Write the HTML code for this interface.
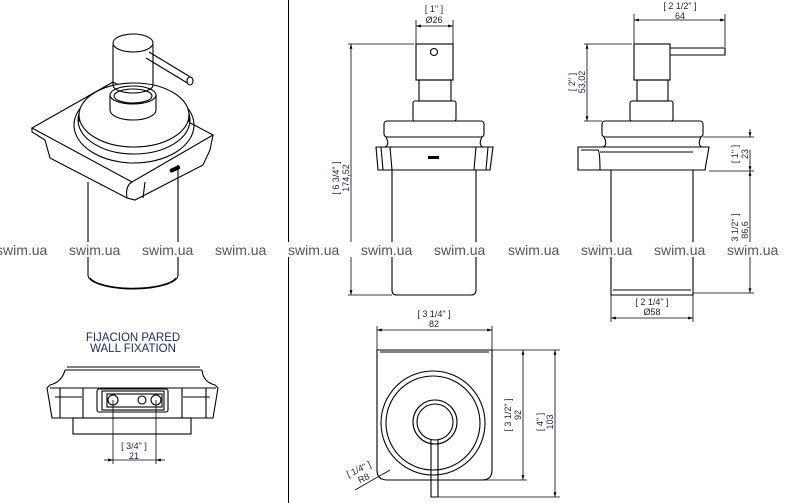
<!DOCTYPE html>
<html><head><meta charset="utf-8"><style>
html,body{margin:0;padding:0;background:#fff;}
svg{display:block;}
text{font-family:"Liberation Sans",Arial,sans-serif;}
</style></head><body>
<svg width="800" height="503" viewBox="0 0 800 503" xmlns="http://www.w3.org/2000/svg">
<defs>
<marker id="a" viewBox="0 0 10 10" refX="10" refY="5" markerWidth="6" markerHeight="6" orient="auto-start-reverse"><path d="M0,2 L10,5 L0,8 z" fill="#000"/></marker>
</defs>
<rect width="800" height="503" fill="#fff"/>
<g stroke="#000" fill="none" stroke-width="1">
<line x1="288.5" y1="0" x2="288.5" y2="503"/>

<!-- ISO VIEW -->
<g stroke-width="1.1">
<path d="M32,128 L113,82 L213,135 L132,182 Z" fill="#fff"/>
<path d="M32,128 L32,132 L45,140 L50,158 L127,198 L135,200 L203,165 L210,150 L213,135"/>
<path d="M132,182 Q125,186 127,198 M145,182 L143,198"/>
<ellipse cx="134" cy="125" rx="60" ry="38"/>
<ellipse cx="134" cy="120" rx="56" ry="34" fill="#fff"/>
<ellipse cx="134" cy="115" rx="55" ry="32" fill="#fff"/>
<path d="M79,115 L79,122 M189,115 L189,122"/>
<path d="M110,95 L110,110 A23,10 0 0 0 156,110 L156,95"/>
<ellipse cx="133" cy="95" rx="23" ry="9" fill="#fff"/>
<ellipse cx="133" cy="96" rx="19" ry="7"/>
<path d="M113,45 L113,85 A20,8 0 0 0 153,85 L153,45"/>
<ellipse cx="133" cy="43" rx="20" ry="9" fill="#fff"/>
<path d="M146,58 L189,84 M149,52 L192,78"/>
<ellipse cx="190" cy="81" rx="3" ry="4" fill="#fff"/>
<path d="M88,182 L88,275 A45,14 0 0 0 178,275 L178,165"/>
<path d="M90,278 A44,13 0 0 0 176,278"/>
<rect x="170" y="167" width="10" height="3" rx="1.5" transform="rotate(-25 176 169)" fill="#000"/>
</g>

<!-- FRONT VIEW -->
<g stroke-width="1.1">
<rect x="416" y="44" width="37" height="36"/>
<circle cx="434" cy="52" r="3.5"/>
<rect x="419" y="80" width="32" height="21"/>
<rect x="413" y="101" width="43" height="20" rx="2"/>
<rect x="384" y="121" width="100" height="16" rx="3"/>
<path d="M386,137 Q390,145 385,147 M482,137 Q478,145 483,147"/>
<path d="M376,147 L493,147 L490,170 L378,170 Z"/>
<path d="M381,147 L383,170 M488,147 L486,170 M390,147 L392,170 M476,147 L474,170"/>
<rect x="428" y="156" width="11" height="3" fill="#000" stroke="none"/>
<path d="M392,170 L392,290 Q392,295 397,295 L471,295 Q476,295 476,290 L476,170"/>
</g>
<g stroke-width="0.8">
<line x1="416" y1="20" x2="416" y2="44"/><line x1="453" y1="20" x2="453" y2="44"/>
<line x1="416" y1="26" x2="453" y2="26" marker-start="url(#a)" marker-end="url(#a)"/>
<line x1="348" y1="44" x2="414" y2="44"/><line x1="348" y1="295" x2="392" y2="295"/>
<line x1="351" y1="44" x2="351" y2="295" marker-start="url(#a)" marker-end="url(#a)"/>
</g>

<!-- SIDE VIEW -->
<g stroke-width="1.1">
<rect x="634" y="44" width="36" height="36"/>
<path d="M670,48 L725,48 L725,55 L670,55"/>
<rect x="637" y="80" width="31" height="21"/>
<rect x="630" y="101" width="43" height="20" rx="2"/>
<rect x="602" y="121" width="101" height="16" rx="3"/>
<path d="M604,137 Q608,145 603,147 M701,137 Q697,145 702,147"/>
<path d="M578,147 L709,147 L705,170 L578,170 Z"/>
<path d="M581,150 L598,150 Q600,152 600,170 M600,152 L693,152"/>
<path d="M611,170 L611,295 L693,295 L693,170"/>
<path d="M613,290 L691,290"/>
</g>
<g stroke-width="0.8">
<line x1="634" y1="14" x2="634" y2="44"/><line x1="725" y1="14" x2="725" y2="47"/>
<line x1="634" y1="20" x2="725" y2="20" marker-start="url(#a)" marker-end="url(#a)"/>
<line x1="584" y1="44" x2="632" y2="44"/><line x1="584" y1="121" x2="602" y2="121"/>
<line x1="587" y1="44" x2="587" y2="121" marker-start="url(#a)" marker-end="url(#a)"/>
<line x1="703" y1="137" x2="754" y2="137"/><line x1="709" y1="171" x2="754" y2="171"/><line x1="693" y1="293" x2="754" y2="293"/>
<line x1="750" y1="129" x2="750" y2="137" marker-end="url(#a)"/>
<line x1="750" y1="171" x2="750" y2="293" marker-start="url(#a)" marker-end="url(#a)"/>
<line x1="750" y1="150" x2="750" y2="171" marker-end="url(#a)"/>
<line x1="611" y1="295" x2="611" y2="322"/><line x1="693" y1="295" x2="693" y2="322"/>
<line x1="611" y1="318" x2="693" y2="318" marker-start="url(#a)" marker-end="url(#a)"/>
</g>

<!-- TOP VIEW -->
<g stroke-width="1.1">
<path d="M377,350 L492,350 L492,470 Q492,480 482,480 L387,480 Q377,480 377,470 Z"/>
<path d="M380,352 L489,352"/>
<circle cx="433" cy="423" r="52"/>
<circle cx="433" cy="423" r="47"/>
<circle cx="435" cy="422" r="22"/>
<circle cx="435" cy="422" r="18"/>
<path d="M431,440 L431,497 L438,497 L438,440"/>
</g>
<g stroke-width="0.8">
<line x1="377" y1="326" x2="377" y2="350"/><line x1="492" y1="326" x2="492" y2="350"/>
<line x1="377" y1="330" x2="492" y2="330" marker-start="url(#a)" marker-end="url(#a)"/>
<line x1="492" y1="350" x2="560" y2="350"/><line x1="470" y1="480" x2="527" y2="480"/><line x1="438" y1="497" x2="560" y2="497"/>
<line x1="523" y1="350" x2="523" y2="480" marker-start="url(#a)" marker-end="url(#a)"/>
<line x1="555" y1="350" x2="555" y2="497" marker-start="url(#a)" marker-end="url(#a)"/>
<line x1="355" y1="490" x2="390" y2="470"/>
</g>

<!-- WALL FIXATION -->
<g stroke-width="1.1">
<path d="M67,367 L200,367 M65,370 L202,370"/>
<path d="M65,370 Q62,382 50,385 L47,388 L52,418 L213,418 L218,388 L215,385 Q203,382 202,370"/>
<path d="M50,388 L216,388"/>
<path d="M60,388 L60,418 M83,388 L83,418 M182,388 L182,418 M206,388 L206,418"/>
<path d="M55,397 L82,397 M183,397 L210,397"/>
<rect x="73" y="418" width="118" height="16"/>
<rect x="97" y="389" width="71" height="23" rx="2"/>
<rect x="102" y="391" width="62" height="19"/>
<rect x="107" y="394" width="55" height="13"/>
<circle cx="113" cy="400" r="5"/>
<circle cx="142" cy="400" r="4"/>
<circle cx="156" cy="400" r="5"/>
</g>
<g stroke-width="0.8">
<line x1="113" y1="400" x2="113" y2="464"/><line x1="156" y1="400" x2="156" y2="464"/>
<line x1="104" y1="460" x2="113" y2="460" marker-end="url(#a)"/>
<line x1="165" y1="460" x2="156" y2="460" marker-end="url(#a)"/>
<line x1="113" y1="460" x2="156" y2="460"/>
</g>
</g>

<!-- TEXT -->
<g fill="#1a2040" font-size="9" text-anchor="middle">
<text x="434" y="12">[ 1" ]</text><text x="434" y="23">Ø26</text>
<text x="680" y="9">[ 2 1/2" ]</text><text x="680" y="19">64</text>
<text x="652" y="305">[ 2 1/4" ]</text><text x="652" y="315">Ø58</text>
<text x="434" y="317">[ 3 1/4" ]</text><text x="434" y="327">82</text>
<text x="134" y="449">[ 3/4" ]</text><text x="134" y="459">21</text>
<g transform="translate(341,178) rotate(-90)"><text y="-2">[ 6 3/4" ]</text><text y="8">174,52</text></g>
<g transform="translate(577,82) rotate(-90)"><text y="-2">[ 2" ]</text><text y="8">53,02</text></g>
<g transform="translate(740,154) rotate(-90)"><text y="-2">[ 1" ]</text><text y="8">23</text></g>
<g transform="translate(740,230) rotate(-90)"><text y="-2">[ 3 1/2" ]</text><text y="8">86,6</text></g>
<g transform="translate(513,415) rotate(-90)"><text y="-2">[ 3 1/2" ]</text><text y="8">92</text></g>
<g transform="translate(545,422) rotate(-90)"><text y="-2">[ 4" ]</text><text y="8">103</text></g>
<text transform="translate(360,472) rotate(-25)">[ 1/4" ]</text>
<text transform="translate(365,481) rotate(-25)">R8</text>
<text x="133" y="341" font-size="11.5" fill="#1a2a5a">FIJACION PARED</text>
<text x="133" y="352" font-size="11.5" fill="#1a2a5a">WALL FIXATION</text>
</g>

<!-- WATERMARKS -->
<g font-size="14" fill="#555">
<rect x="0" y="242" width="800" height="15" fill="#fff"/>
<text x="-4" y="255">swim.ua</text>
<text x="69" y="255">swim.ua</text>
<text x="142" y="255">swim.ua</text>
<text x="215" y="255">swim.ua</text>
<text x="288" y="255">swim.ua</text>
<text x="361" y="255">swim.ua</text>
<text x="434" y="255">swim.ua</text>
<text x="508" y="255">swim.ua</text>
<text x="581" y="255">swim.ua</text>
<text x="654" y="255">swim.ua</text>
<text x="727" y="255">swim.ua</text>
</g>
</svg>
</body></html>
